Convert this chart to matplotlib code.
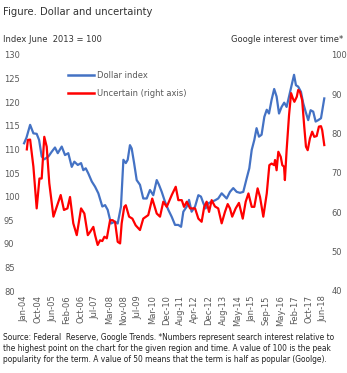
import matplotlib
matplotlib.use("Agg")
import matplotlib.pyplot as plt

# ---- data (months since Jan-2004) ----
dollar_month = [0, 1.4, 3.5, 5.4, 7.3, 8.7, 10.2, 11.7, 14.1, 16, 17.9, 19.5, 21.8, 23.7, 25.6,
                27.6, 29.1, 31.1, 33, 34.3, 35.7, 37.2, 39.2, 41.1, 43, 45.3, 46.9, 48.4, 50.3,
                52.7, 54.2, 56.1, 57.5, 58.9, 60, 61.3, 62.3, 63.7, 65.2, 67.1, 69, 71, 72.9,
                74.8, 76.8, 78.1, 79.7, 81.6, 83.5, 85.5, 87.4, 89.3, 90.9, 92.2, 94.2, 95.5,
                97, 99, 100.9, 102.4, 103.8, 105.1, 106.7, 108.6, 110.5, 112.4, 114.4, 117.3,
                119.2, 121.1, 123.1, 125, 126.9, 128.9, 130.4, 131.8, 133.3, 134.6, 136, 137.5,
                139.1, 140.5, 141.8, 143.3, 144.8, 146.2, 147.6, 149.1, 150.6, 152, 153.4,
                154.9, 156.3, 157.4, 158.7, 160.3, 161.6, 163, 164.5, 165.9, 167.4, 168.8,
                170.3, 171.9, 173.8]
dollar_index = [111.3, 112.5, 115.2, 113.4, 113.3, 112, 108.5, 107.9, 108.5, 109.5, 110.4, 109.2,
                110.6, 108.8, 109.2, 106.3, 107.4, 106.7, 107.1, 105.6, 106, 104.9, 103.2, 102.1,
                100.7, 97.9, 98.2, 97.2, 94.3, 94.7, 94.3, 97.9, 107.8, 107.1, 107.8, 110.9,
                110.2, 107.1, 103.5, 102.5, 99.6, 99.6, 101.4, 100.3, 103.5, 102.5, 101, 98.9,
                97.2, 95.7, 94, 94, 93.6, 96.8, 97.9, 99.3, 96.8, 97.9, 100.3, 100, 98.6, 97.5,
                98.6, 98.9, 99.2, 99.6, 100.7, 99.6, 101, 101.8, 101, 100.8, 101, 103.9, 106,
                109.9, 112, 114.5, 112.7, 113.1, 116.9, 118.4, 117.6, 120.5, 122.8, 121.2,
                117.6, 119, 119.9, 119, 121.2, 123.6, 125.8, 123.6, 123.3, 122.2, 119.8, 118,
                116.2, 118.3, 118, 115.9, 116.2, 116.6, 120.8]

uncert_month = [1.6, 2.2, 3.5, 5.4, 7.3, 8.9, 10.2, 11.7, 13.1, 14.6, 17, 18.9, 21.2, 23.1, 25.1,
                26.6, 28.5, 30.5, 33, 34.9, 36.9, 38.2, 40.1, 41.1, 42.6, 44, 45.3, 46.5, 47.9,
                49.8, 51.3, 52.7, 54.2, 55.6, 56.5, 58, 58.9, 60.8, 62.7, 64.6, 67.1, 69, 71.9,
                74.2, 76.8, 78.7, 80.6, 82.6, 85.5, 87.8, 89.3, 91.3, 92.6, 94.2, 96.1, 99,
                100.9, 102.8, 104.3, 105.7, 107.1, 108.6, 110.5, 112.4, 114.4, 116.3, 117.9,
                119.2, 120.5, 122.5, 124.4, 126.6, 128.3, 129.9, 131.8, 133.3, 135.2, 136.6,
                138.5, 140.5, 142, 143.3, 144.8, 145.3, 146.2, 147.2, 148.6, 149.5, 150.5, 151,
                152, 153.4, 154.6, 155.6, 156.5, 157.9, 158.7, 159.7, 161, 162.2, 163.2, 164.2,
                165.5, 166.8, 168, 169.4, 170.7, 171.9, 172.6, 173.8]
uncertainty = [76, 78.4, 78.5, 71.6, 61, 68.6, 68.6, 79.2, 76.7, 67.4, 58.9, 61.4, 64.4, 60.6, 61,
               63.9, 57.2, 54.2, 61, 59.7, 54.2, 55, 56.3, 54.2, 51.7, 52.9, 52.7, 53.8, 53.4,
               58, 58, 57.5, 52.5, 52.1, 57.2, 61.4, 61.8, 58.9, 58.4, 56.7, 55.5, 58.4, 59.3,
               63.5, 59.7, 58.9, 62.7, 61.4, 64.4, 66.5, 63.1, 63.1, 61.4, 62.7, 61, 61, 58.4,
               57.6, 61.4, 62.7, 60.1, 63.1, 61.5, 61, 57.2, 60.1, 62.1, 61, 58.9, 61, 62.4,
               58.4, 62.7, 64.8, 61.4, 61.4, 66.1, 63.9, 58.9, 64.8, 72, 72.4, 72, 73.3, 70.7,
               75.4, 74.1, 72, 71.6, 68.2, 75.8, 84.7, 90.3, 89, 88.1, 89.4, 91.1, 90.7, 88.5,
               81.8, 76.7, 75.8, 78.8, 80.5, 79.2, 79.4, 81.8, 81.9, 80.9, 77.1]

tick_labels = ["Jan-04", "Oct-04", "Jun-05", "Feb-06", "Oct-06", "Jul-07", "Mar-08", "Nov-08",
               "Jul-09", "Mar-10", "Dec-10", "Aug-11", "Apr-12", "Dec-12", "Aug-13", "May-14",
               "Jan-15", "Sep-15", "May-16", "Feb-17", "Oct-17", "Jun-18"]
left_ticks = [80, 85, 90, 95, 100, 105, 110, 115, 120, 125, 130]
right_ticks = [40, 50, 60, 70, 80, 90, 100]

BLUE = "#4472C4"
RED = "#FF0000"
GRAY = "#595959"
plt.rcParams["font.family"] = ["DejaVu Sans"]

W, H = 347, 373
fig = plt.figure(figsize=(W / 100, H / 100), dpi=100)

def fx(px):
    return px / W

def fy(py):
    return 1 - py / H

ax = fig.add_axes([fx(22), fy(291), fx(326) - fx(22), fy(55) - fy(291)])
ax2 = ax.twinx()

ax.plot(dollar_month, dollar_index, color=BLUE, lw=1.6, solid_joinstyle="round")
ax2.plot(uncert_month, uncertainty, color=RED, lw=1.6, solid_joinstyle="round")

ax.set_xlim(-1.2, 174.8)
ax.set_ylim(80, 130)
ax2.set_ylim(40, 100)
ax.set_yticks(left_ticks)
ax2.set_yticks(right_ticks)
n = len(tick_labels) - 1
ax.set_xticks([173 * i / n for i in range(n + 1)])
ax.set_xticklabels(tick_labels, rotation=90, fontsize=6.0, color=GRAY)
for a in (ax, ax2):
    for s in a.spines.values():
        s.set_visible(False)
    a.tick_params(length=0, labelsize=6.0, labelcolor=GRAY)
for lab in ax.get_yticklabels():
    lab.set_horizontalalignment("left")
ax.tick_params(axis="y", pad=13)
ax2.tick_params(axis="y", pad=4)
ax.tick_params(axis="x", pad=3)

# legend drawn as line + text
fig.add_artist(plt.Line2D([fx(68), fx(94)], [fy(75), fy(75)], color=BLUE, lw=1.8))
fig.add_artist(plt.Line2D([fx(68), fx(94)], [fy(93), fy(93)], color=RED, lw=1.8))
fig.text(fx(97), fy(75), "Dollar index", fontsize=6.0, color=GRAY, va="center")
fig.text(fx(97), fy(93), "Uncertain (right axis)", fontsize=6.0, color=GRAY, va="center")

fig.text(fx(3), fy(12), "Figure. Dollar and uncertainty", fontsize=7.2, color="#333333", va="center")
fig.text(fx(3), fy(40), "Index June  2013 = 100", fontsize=6.0, color="#333333", va="center")
fig.text(fx(343), fy(40), "Google interest over time*", fontsize=6.0, color="#333333",
         va="center", ha="right")

src = ("Source: Federal  Reserve, Google Trends. *Numbers represent search interest relative to\n"
       "the highest point on the chart for the given region and time. A value of 100 is the peak\n"
       "popularity for the term. A value of 50 means that the term is half as popular (Goolge).")
fig.text(fx(3), fy(333), src, fontsize=5.45, color="#222222", va="top", linespacing=1.3)

fig.savefig("out.png", dpi=100)
